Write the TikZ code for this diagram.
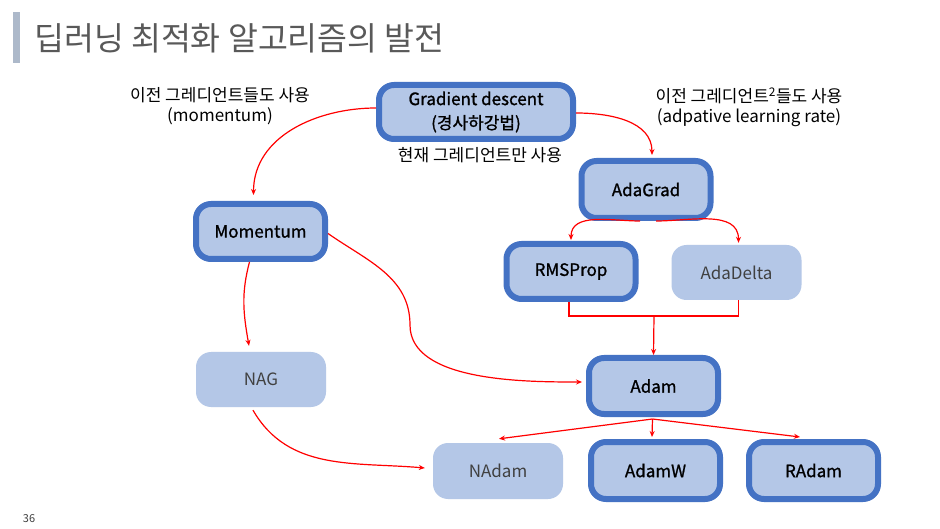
\documentclass[tikz,border=0pt]{standalone}
\usepackage{fontspec}
\setmainfont{Noto Sans CJK KR}
\newfontfamily\keyfont[FakeBold=1.1]{Noto Sans CJK KR}
\usetikzlibrary{arrows.meta}
\definecolor{boxfill}{HTML}{B4C7E7}
\definecolor{boxedge}{HTML}{4472C4}
\definecolor{titlebar}{HTML}{ADB9CA}
\definecolor{titletext}{HTML}{595959}
\definecolor{softtext}{HTML}{404040}
\definecolor{flow}{HTML}{FF0000}
\begin{document}
\begin{tikzpicture}[x=1pt,y=1pt,
  keybox/.style={draw=boxedge, line width=6pt, fill=boxfill, rounded corners=15pt,
    minimum width=129pt, minimum height=55pt, inner sep=0pt,
    font=\keyfont\fontsize{17}{24}\selectfont, align=center},
  softbox/.style={fill=boxfill, rounded corners=15pt, minimum width=130pt,
    minimum height=55pt, inner sep=0pt, text=softtext,
    font=\fontsize{17}{23}\selectfont},
  note/.style={font=\fontsize{17}{20}\selectfont, align=center},
  flowline/.style={draw=flow, line width=1.2pt},
  flowarrow/.style={flowline, -{Stealth[length=6pt,width=5pt]}}
]
\useasboundingbox[fill=white] (0,0) rectangle (940,-529);

% heading
\fill[titlebar] (13,-12) rectangle (20,-63);
\node[anchor=west, text=titletext, font=\fontsize{32.5}{36}\selectfont, inner sep=0pt]
  (title) at (34,-38) {딥러닝 최적화 알고리즘의 발전};

% optimizers
\node[keybox, minimum width=194pt, minimum height=54pt] (gd) at (476,-112) {Gradient descent\\(경사하강법)};
\node[keybox, minimum height=57pt] (ada) at (646,-189.5) {AdaGrad};
\node[keybox] (mom) at (260.5,-231.5) {Momentum};
\node[keybox] (rms) at (571,-271.5) {RMSProp};
\node[softbox] (delta) at (736.5,-272.5) {AdaDelta};
\node[softbox] (nag) at (261,-379.5) {NAG};
\node[keybox, minimum height=56pt] (adam) at (653.5,-386) {Adam};
\node[softbox, minimum height=56pt] (nadam) at (498,-471) {NAdam};
\node[keybox, minimum height=57pt] (adamw) at (655.5,-470.5) {AdamW};
\node[keybox, minimum height=57pt] (radam) at (813.5,-470.5) {RAdam};

% annotations
\node[note] (lblmom) at (220,-106) {이전 그레디언트들도 사용\\(momentum)};
\node[note] (lblnow) at (480,-155) {현재 그레디언트만 사용};
\node[note] (lblada) at (749,-107) {이전 그레디언트\textsuperscript{2}들도 사용\\(adpative learning rate)};
\node[font=\fontsize{11}{12}\selectfont, text=softtext] (page) at (29,-519) {36};

% connectors
\draw[flowarrow] ([yshift=4pt]gd.west) to[out=180,in=90] ([xshift=-7pt,yshift=6pt]mom.north);
\draw[flowarrow] ([yshift=-1pt]gd.east) to[out=0,in=90] ([xshift=6pt,yshift=3pt]ada.north);
\draw[flowarrow] ([xshift=-6pt]ada.south) to[out=180,in=90] ([yshift=1pt]rms.north);
\draw[flowarrow] ([xshift=10pt]ada.south) to[out=0,in=90] ([xshift=2pt,yshift=2pt]delta.north);

\coordinate (merge) at (654,-316);
\draw[flowline] ([xshift=-2pt]rms.south) |- (merge) -| ([xshift=2pt]delta.south);
\draw[flowarrow] (merge) -- (adam.north);

\coordinate (bend) at (410,-325);
\draw[flowarrow] ([yshift=-2pt]mom.east) to[out=-35,in=90] (bend)
  to[out=-90,in=180,looseness=0.8] ([xshift=-4pt,yshift=4pt]adam.west);
\draw[flowarrow] ([xshift=-11pt]mom.south) to[out=-105,in=100] ([xshift=-12pt,yshift=6pt]nag.north);
\draw[flowarrow] ([xshift=-8pt,yshift=-3pt]nag.south) to[out=-60,in=175] ([xshift=-8pt,yshift=3pt]nadam.west);

\coordinate (split) at ([xshift=-1pt,yshift=-2pt]adam.south);
\draw[flowarrow] (split) -- ([xshift=1pt,yshift=4pt]nadam.north);
\draw[flowarrow] (split) -- ([xshift=-3.5pt,yshift=2pt]adamw.north);
\draw[flowarrow] (split) -- ([xshift=-13.5pt,yshift=2pt]radam.north);
\end{tikzpicture}
\end{document}
